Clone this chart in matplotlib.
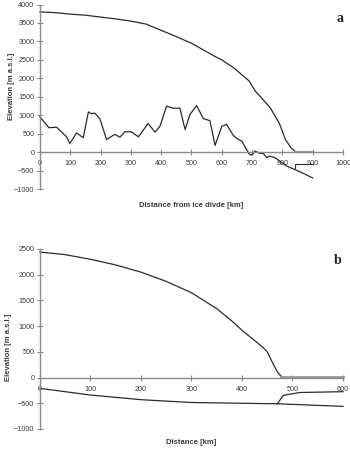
import numpy as np
import matplotlib.pyplot as plt

plt.rcParams['font.family'] = ['Liberation Sans', 'DejaVu Sans']

# Panel a - surface and bed profile from the ice divide
a_surf_x = [0, 50, 100, 150, 200, 250, 300, 350, 400, 450, 500, 550, 580, 600,
            640, 690, 710, 730, 760, 790, 810, 830, 845]
a_surf_y = [3800, 3780, 3740, 3710, 3660, 3610, 3550, 3470, 3300, 3130, 2950,
            2720, 2580, 2500, 2280, 1930, 1660, 1480, 1200, 780, 340, 100, 0]
a_shelf_x = [845, 900]
a_shelf_y = [10, 10]
a_bed_x = [0, 30, 55, 88, 99, 121, 143, 160, 170, 181, 198, 220, 247, 264, 280,
           302, 325, 357, 380, 396, 418, 440, 462, 479, 495, 517, 539, 561,
           578, 600, 616, 638, 655, 666, 691, 699, 710, 726, 737, 748, 759,
           776, 814, 860, 900]
a_bed_y = [955, 660, 675, 415, 235, 520, 390, 1090, 1040, 1060, 900, 340, 480,
           405, 550, 550, 415, 775, 540, 700, 1245, 1190, 1190, 610, 1020, 1260,
           910, 850, 180, 700, 750, 450, 340, 300, -60, -80, 30, -35, -35, -150,
           -110, -152, -378, -540, -700]
a_base_x = [842, 842, 900]
a_base_y = [-440, -320, -320]

# Panel b - modelled profile
b_surf_x = [0, 50, 100, 150, 200, 250, 300, 350, 380, 400, 420, 440, 450, 460,
            470, 478]
b_surf_y = [2440, 2390, 2300, 2190, 2050, 1870, 1650, 1340, 1100, 920, 760, 600,
            500, 300, 110, 20]
b_shelf_x = [478, 600]
b_shelf_y = [15, 15]
b_bed_x = [0, 100, 200, 300, 400, 470, 600]
b_bed_y = [-210, -340, -430, -485, -500, -510, -560]
b_base_x = [470, 482, 515, 600]
b_base_y = [-510, -345, -290, -275]

line_c = '#2b2b2b'
axis_c = '#8a8a8a'
text_c = '#3a3a3a'

fig = plt.figure(figsize=(3.5, 4.5), dpi=100)


def style(ax, xmax, ymin, ymax):
    ax.set_xlim(0, xmax)
    ax.set_ylim(ymin, ymax)
    for s in ['top', 'right']:
        ax.spines[s].set_visible(False)
    ax.spines['left'].set_position(('data', 0))
    ax.spines['bottom'].set_position(('data', 0))
    for s in ['left', 'bottom']:
        ax.spines[s].set_color(axis_c)
        ax.spines[s].set_linewidth(1.0)
    ax.tick_params(direction='inout', length=4, width=0.8, color=axis_c,
                   labelsize=5.2, labelcolor=text_c, pad=2)
    ax.tick_params(axis='x', pad=4)
    ax.set_yticks(np.arange(ymin, ymax + 1, 500))
    ax.patch.set_alpha(0)


ax1 = fig.add_axes([0.114, 0.58, 0.866, 0.41])
style(ax1, 1000, -1000, 4000)
ax1.set_xticks(np.arange(0, 1001, 100))
ax1.plot(a_surf_x, a_surf_y, color=line_c, lw=0.9, clip_on=False)
ax1.plot(a_shelf_x, a_shelf_y, color='#999999', lw=1.6, clip_on=False)
ax1.plot(a_bed_x, a_bed_y, color=line_c, lw=0.9, clip_on=False)
ax1.plot(a_base_x, a_base_y, color=line_c, lw=0.8, clip_on=False)

ax2 = fig.add_axes([0.114, 0.0467, 0.866, 0.40])
style(ax2, 600, -1000, 2500)
ax2.set_xticks(np.arange(0, 601, 100))
ax2.plot(b_surf_x, b_surf_y, color=line_c, lw=0.9, clip_on=False)
ax2.plot(b_shelf_x, b_shelf_y, color='#9a9a9a', lw=2.0, clip_on=False)
ax2.plot(b_bed_x, b_bed_y, color=line_c, lw=0.9, clip_on=False)
ax2.plot(b_base_x, b_base_y, color=line_c, lw=0.9, clip_on=False)

lab = dict(fontsize=5.5, fontweight='bold', color=text_c, ha='center', va='center')
fig.text(0.545, 0.544, 'Distance from ice divde [km]', **lab)
fig.text(0.034, 0.807, 'Elevation [m a.s.l.]', rotation=90, **lab)
fig.text(0.545, 0.016, 'Distance [km]', **lab)
fig.text(0.025, 0.229, 'Elevation [m a.s.l.]', rotation=90, **lab)

fig.text(0.971, 0.958, 'a', fontsize=10, fontweight='bold', family='Liberation Serif',
         color='#222222', ha='center', va='center')
fig.text(0.966, 0.422, 'b', fontsize=10, fontweight='bold', family='Liberation Serif',
         color='#222222', ha='center', va='center')

fig.savefig('out.png', dpi=100)
